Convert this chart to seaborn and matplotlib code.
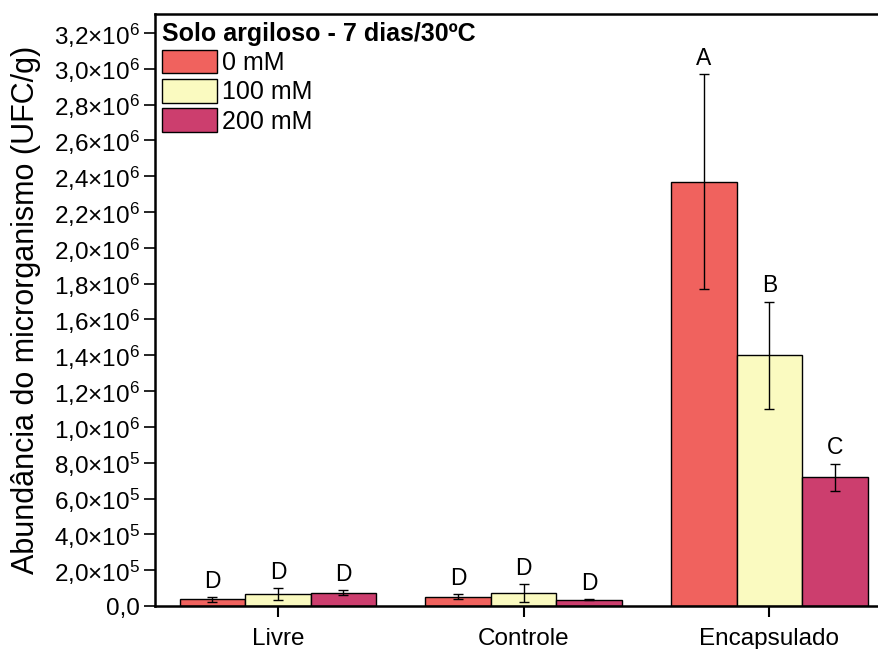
import matplotlib
matplotlib.use('agg')
import matplotlib.pyplot as plt
import seaborn as sns
import pandas as pd
import numpy as np
from matplotlib.ticker import FuncFormatter, MultipleLocator

# values
groups = ['Livre', 'Controle', 'Encapsulado']
doses = ['0 mM', '100 mM', '200 mM']
mean_0 = [0.037e6, 0.052e6, 2.37e6]
mean_100 = [0.067e6, 0.073e6, 1.40e6]
mean_200 = [0.074e6, 0.035e6, 0.72e6]
err_0 = [0.014e6, 0.015e6, 0.60e6]
err_100 = [0.032e6, 0.050e6, 0.30e6]
err_200 = [0.013e6, 0.003e6, 0.075e6]
letters_0 = ['D', 'D', 'A']
letters_100 = ['D', 'D', 'B']
letters_200 = ['D', 'D', 'C']
colors = ['#F0625E', '#FAFAC0', '#CC3E6E']

df = pd.DataFrame({
    'grupo': groups * 3,
    'dose': [d for d in doses for _ in groups],
    'valor': mean_0 + mean_100 + mean_200,
})
errs = [err_0, err_100, err_200]
letters = [letters_0, letters_100, letters_200]

sns.set_theme(style='ticks')
plt.rcParams['font.family'] = ['Liberation Sans', 'DejaVu Sans']
plt.rcParams['mathtext.fontset'] = 'custom'
plt.rcParams['mathtext.rm'] = 'Liberation Sans'
plt.rcParams['mathtext.it'] = 'Liberation Sans'
for k in ['text.color', 'axes.labelcolor', 'xtick.color', 'ytick.color', 'axes.edgecolor']:
    plt.rcParams[k] = 'black'

fig = plt.figure(figsize=(8.79, 6.49), dpi=100)
ax = fig.add_axes([155 / 879, 43 / 649, 730 / 879, 592 / 649])

sns.barplot(data=df, x='grupo', y='valor', hue='dose', order=groups, hue_order=doses,
            palette=colors, edgecolor='black', linewidth=1, errorbar=None, ax=ax,
            saturation=1)

for cont, e, lab in zip(ax.containers, errs, letters):
    for bar, ev, lt in zip(cont, e, lab):
        xc = bar.get_x() + bar.get_width() / 2
        h = bar.get_height()
        ax.errorbar(xc, h, yerr=ev, color='black', lw=1, capsize=3.5, capthick=1)
        ax.annotate(lt, (xc, h + ev), xytext=(0, 3), textcoords='offset points',
                    ha='center', va='bottom', fontsize=16.5)

ax.set_xlim(-0.5, 2.47)
ax.set_ylim(0, 3.306e6)
ax.yaxis.set_major_locator(MultipleLocator(2e5))


def fmt(v, pos):
    if v <= 0:
        return '0,0'
    e = int(np.floor(np.log10(v) + 1e-9))
    m = v / 10 ** e
    return f'{m:.1f}'.replace('.', ',') + '×10$^{' + str(e) + '}$'


ax.yaxis.set_major_formatter(FuncFormatter(fmt))
ax.tick_params(axis='y', labelsize=17.5, length=8, width=1.2, direction='out', pad=3)
ax.tick_params(axis='x', labelsize=17.5, length=8, width=1.5, direction='out', pad=8)
ax.set_xlabel('')
ax.set_ylabel('Abundância do microrganismo (UFC/g)', fontsize=22)
ax.yaxis.set_label_coords(-0.156, 0.5)

for s in ['left', 'bottom', 'top']:
    ax.spines[s].set_linewidth(1.8)
ax.spines['right'].set_visible(False)

leg = ax.legend(title='Solo argiloso - 7 dias/30ºC', loc='upper left', frameon=False,
                fontsize=18, title_fontproperties={'weight': 'bold', 'size': 18},
                handlelength=2.2, handleheight=1.08, labelspacing=0.16,
                handletextpad=0.2, borderaxespad=0.05, borderpad=0.25,
                alignment='left')
for p in leg.get_patches():
    p.set_edgecolor('black')
    p.set_linewidth(1)

fig.savefig('out.png', dpi=100)
